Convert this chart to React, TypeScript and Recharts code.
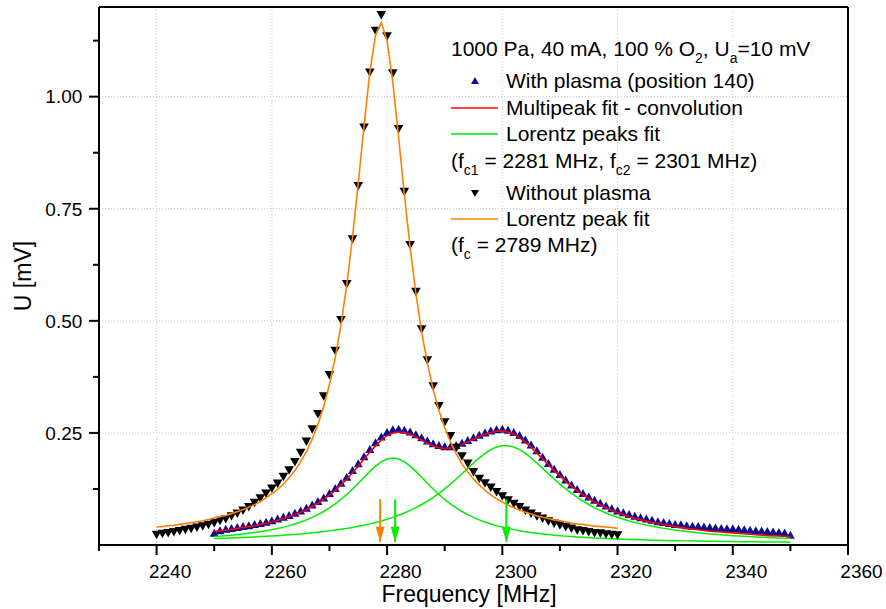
import React from 'react';
import { ComposedChart, Scatter, XAxis, YAxis, ReferenceLine, Label } from 'recharts';

// ---------- data ----------
const range = (a: number, b: number, step: number) => {
  const out: number[] = [];
  for (let v = a; v <= b + 1e-9; v += step) out.push(v);
  return out;
};

const withoutPlasmaFreq = range(2240, 2320, 1);
const withoutPlasmaU = [
  0.023, 0.025, 0.027, 0.029, 0.031, 0.034, 0.036, 0.039, 0.042, 0.045,
  0.049, 0.054, 0.058, 0.064, 0.070, 0.077, 0.085, 0.094, 0.104, 0.115,
  0.126, 0.137, 0.152, 0.167, 0.185, 0.206, 0.231, 0.258, 0.292, 0.332,
  0.379, 0.433, 0.502, 0.582, 0.682, 0.801, 0.931, 1.054, 1.147, 1.182,
  1.135, 1.052, 0.928, 0.788, 0.669, 0.565, 0.481, 0.412, 0.354, 0.310,
  0.274, 0.243, 0.217, 0.198, 0.182, 0.163, 0.148, 0.138, 0.128, 0.118,
  0.109, 0.100, 0.092, 0.085, 0.077, 0.070, 0.064, 0.059, 0.053, 0.048,
  0.044, 0.040, 0.037, 0.033, 0.031, 0.029, 0.027, 0.026, 0.024, 0.023,
  0.022,
];
const lorentzPeakFitU = [
  0.040, 0.041, 0.043, 0.044, 0.046, 0.048, 0.050, 0.052, 0.054, 0.057,
  0.060, 0.063, 0.066, 0.070, 0.074, 0.079, 0.084, 0.090, 0.097, 0.105,
  0.114, 0.124, 0.136, 0.150, 0.166, 0.186, 0.208, 0.236, 0.269, 0.309,
  0.358, 0.418, 0.491, 0.580, 0.686, 0.807, 0.935, 1.054, 1.138, 1.165,
  1.125, 1.032, 0.909, 0.782, 0.664, 0.561, 0.475, 0.405, 0.347, 0.300,
  0.262, 0.230, 0.203, 0.181, 0.163, 0.147, 0.134, 0.122, 0.112, 0.103,
  0.096, 0.089, 0.083, 0.078, 0.073, 0.069, 0.065, 0.062, 0.059, 0.056,
  0.054, 0.051, 0.049, 0.047, 0.046, 0.044, 0.042, 0.041, 0.040, 0.039,
  0.037,
];

const withPlasmaFreq = range(2250, 2350, 1);
const withPlasmaU = [
  0.026, 0.032, 0.035, 0.037, 0.039, 0.041, 0.043, 0.046, 0.048, 0.051,
  0.054, 0.058, 0.062, 0.066, 0.071, 0.076, 0.082, 0.089, 0.097, 0.105,
  0.115, 0.126, 0.138, 0.151, 0.166, 0.181, 0.197, 0.213, 0.228, 0.241,
  0.251, 0.257, 0.258, 0.256, 0.252, 0.246, 0.239, 0.232, 0.226, 0.222,
  0.219, 0.219, 0.222, 0.227, 0.233, 0.239, 0.245, 0.250, 0.254, 0.257,
  0.258, 0.256, 0.251, 0.244, 0.234, 0.223, 0.210, 0.196, 0.182, 0.169,
  0.157, 0.145, 0.134, 0.124, 0.115, 0.107, 0.100, 0.093, 0.087, 0.081,
  0.076, 0.072, 0.068, 0.064, 0.061, 0.058, 0.055, 0.052, 0.050, 0.048,
  0.046, 0.045, 0.043, 0.042, 0.041, 0.040, 0.039, 0.038, 0.037, 0.036,
  0.036, 0.035, 0.034, 0.033, 0.032, 0.031, 0.030, 0.029, 0.028, 0.027,
  0.022,
];

const fitFreq = [...range(2250, 2320, 1), ...range(2322, 2350, 2)];
const multipeakFitU = [
  0.030, 0.032, 0.033, 0.035, 0.037, 0.039, 0.041, 0.043, 0.046, 0.048,
  0.052, 0.055, 0.059, 0.063, 0.068, 0.073, 0.079, 0.086, 0.093, 0.102,
  0.111, 0.122, 0.134, 0.147, 0.161, 0.176, 0.192, 0.207, 0.221, 0.234,
  0.244, 0.250, 0.252, 0.251, 0.247, 0.241, 0.234, 0.227, 0.221, 0.217,
  0.215, 0.216, 0.219, 0.224, 0.230, 0.236, 0.242, 0.247, 0.251, 0.254,
  0.254, 0.252, 0.247, 0.239, 0.229, 0.218, 0.205, 0.192, 0.179, 0.166,
  0.154, 0.142, 0.131, 0.121, 0.112, 0.104, 0.096, 0.089, 0.083, 0.077,
  0.072,
  0.063, 0.056, 0.050, 0.045, 0.041, 0.037, 0.034, 0.031, 0.029, 0.027,
  0.025, 0.023, 0.021, 0.020, 0.019,
];
const lorentzPeak1U = [
  0.0188, 0.0198, 0.0208, 0.0220, 0.0233, 0.0247, 0.0262, 0.0279, 0.0298, 0.0320,
  0.0343, 0.0370, 0.0399, 0.0432, 0.0470, 0.0512, 0.0560, 0.0615, 0.0677, 0.0747,
  0.0826, 0.0916, 0.1016, 0.1128, 0.1249, 0.1379, 0.1512, 0.1642, 0.1760, 0.1856,
  0.1918, 0.1940, 0.1918, 0.1856, 0.1760, 0.1642, 0.1512, 0.1379, 0.1249, 0.1128,
  0.1016, 0.0916, 0.0826, 0.0747, 0.0677, 0.0615, 0.0560, 0.0512, 0.0470, 0.0432,
  0.0399, 0.0370, 0.0343, 0.0320, 0.0298, 0.0279, 0.0262, 0.0247, 0.0233, 0.0220,
  0.0208, 0.0198, 0.0188, 0.0179, 0.0171, 0.0163, 0.0156, 0.0150, 0.0144, 0.0138,
  0.0133,
  0.0124, 0.0115, 0.0108, 0.0102, 0.0096, 0.0092, 0.0087, 0.0083, 0.0080, 0.0076,
  0.0073, 0.0071, 0.0068, 0.0066, 0.0064,
];
const lorentzPeak2U = [
  0.0143, 0.0148, 0.0152, 0.0157, 0.0163, 0.0168, 0.0174, 0.0180, 0.0187, 0.0194,
  0.0201, 0.0209, 0.0218, 0.0227, 0.0237, 0.0248, 0.0259, 0.0272, 0.0285, 0.0300,
  0.0315, 0.0332, 0.0351, 0.0371, 0.0392, 0.0416, 0.0442, 0.0471, 0.0502, 0.0537,
  0.0575, 0.0617, 0.0663, 0.0715, 0.0771, 0.0834, 0.0903, 0.0979, 0.1062, 0.1153,
  0.1252, 0.1359, 0.1472, 0.1590, 0.1710, 0.1829, 0.1942, 0.2043, 0.2126, 0.2185,
  0.2216, 0.2216, 0.2185, 0.2126, 0.2043, 0.1942, 0.1829, 0.1710, 0.1590, 0.1472,
  0.1359, 0.1252, 0.1153, 0.1062, 0.0979, 0.0903, 0.0834, 0.0771, 0.0715, 0.0663,
  0.0617,
  0.0537, 0.0471, 0.0416, 0.0371, 0.0332, 0.0300, 0.0272, 0.0248, 0.0227, 0.0209,
  0.0194, 0.0180, 0.0168, 0.0157, 0.0148,
];

// peak-centre arrows (frequency) and their vertical extent (mV)
const arrowOrangeFreq = 2278.8;
const arrowGreen1Freq = 2281.4;
const arrowGreen2Freq = 2300.7;
const arrowTopU = 0.102;
const arrowTipU = 0.007;

const xTicks = range(2230, 2360, 10);
const yTicks = [0.125, 0.25, 0.375, 0.5, 0.625, 0.75, 0.875, 1.0, 1.125];
const xGrid = [2240, 2260, 2280, 2300, 2320, 2340];
const yGrid = [0.25, 0.5, 0.75, 1.0];

const toPts = (xs: number[], ys: number[]) => xs.map((x, i) => ({ x, y: ys[i] }));
const withoutPlasmaPts = toPts(withoutPlasmaFreq, withoutPlasmaU);
const lorentzPeakFitPts = toPts(withoutPlasmaFreq, lorentzPeakFitU);
const withPlasmaPts = toPts(withPlasmaFreq, withPlasmaU);
const multipeakPts = toPts(fitFreq, multipeakFitU);
const peak1Pts = toPts(fitFreq, lorentzPeak1U);
const peak2Pts = toPts(fitFreq, lorentzPeak2U);
const arrowShaft = (f: number) => [{ x: f, y: arrowTopU }, { x: f, y: arrowTipU }];
const arrowTip = (f: number) => [{ x: f, y: arrowTipU }];

// ---------- styling ----------
const FONT = '"Liberation Sans", Arial, Helvetica, sans-serif';
const BLUE = '#0c0c92';
const RED = '#ff0000';
const GREEN = '#00ee00';
const ORANGE = '#ff8000';

const XTick = (props: any) => {
  const { x, y, payload } = props;
  const v = payload.value;
  const major = (v - 2240) % 20 === 0;
  return (
    <g>
      <line x1={x} x2={x} y1={y} y2={y + (major ? 10 : 6)} stroke="#000" strokeWidth={2} />
      {major && (
        <text x={x + 13.5} y={y + 33.3} textAnchor="middle" fontSize={19} fill="#000" fontFamily={FONT}>
          {v}
        </text>
      )}
    </g>
  );
};

const YTick = (props: any) => {
  const { x, y, payload } = props;
  const v = payload.value;
  const major = Math.abs(v * 4 - Math.round(v * 4)) < 1e-6;
  return (
    <g>
      <line x1={x} x2={x - (major ? 10 : 6)} y1={y} y2={y} stroke="#000" strokeWidth={2} />
      {major && (
        <text x={x - 16.7} y={y + 6.8} textAnchor="end" fontSize={19} fill="#000" fontFamily={FONT}>
          {v.toFixed(2)}
        </text>
      )}
    </g>
  );
};

const noShape = () => <g />;
const upTri = (color: string) => (p: any) => {
  const { cx, cy } = p;
  if (cx == null || cy == null) return <g />;
  return <path d={`M${cx},${cy - 4.5}L${cx + 4.5},${cy + 3.5}L${cx - 4.5},${cy + 3.5}Z`} fill={color} />;
};
const downTri = (color: string) => (p: any) => {
  const { cx, cy } = p;
  if (cx == null || cy == null) return <g />;
  return <path d={`M${cx},${cy + 4.5}L${cx + 4.8},${cy - 4}L${cx - 4.8},${cy - 4}Z`} fill={color} />;
};
const arrowHead = (color: string) => (p: any) => {
  const { cx, cy } = p;
  if (cx == null || cy == null) return <g />;
  return <path d={`M${cx},${cy}L${cx + 4.5},${cy - 15}L${cx - 4.5},${cy - 15}Z`} fill={color} />;
};

const YTitle = (p: any) => {
  const vb = p.viewBox || { x: 8, y: 7, width: 91, height: 538 };
  const cx = vb.x + 15;
  const cy = vb.y + vb.height / 2;
  return (
    <text x={cx} y={cy} transform={`rotate(-90, ${cx}, ${cy})`} textAnchor="middle" dominantBaseline="central"
      fontSize={23} fill="#000" fontFamily={FONT}>
      U [mV]
    </text>
  );
};
const XTitle = (p: any) => {
  const vb = p.viewBox || { x: 99, y: 545, width: 749, height: 64 };
  return (
    <text x={vb.x + vb.width / 2 - 4.5} y={vb.y + 57} textAnchor="middle" fontSize={23} fill="#000" fontFamily={FONT}>
      Frequency [MHz]
    </text>
  );
};

const Sub = ({ children }: { children: React.ReactNode }) => (
  <span style={{ fontSize: 14, position: 'relative', top: 7 }}>{children}</span>
);

const rowStyle = (capCenter: number, left: number): React.CSSProperties => ({
  position: 'absolute',
  left,
  top: capCenter - 11.75,
  fontSize: 21,
  lineHeight: '24px',
  whiteSpace: 'nowrap',
  color: '#000',
});

const LegendLine = ({ capCenter, color }: { capCenter: number; color: string }) => (
  <svg style={{ position: 'absolute', left: 451, top: capCenter - 5 }} width={48} height={10}>
    <line x1={0} x2={47} y1={5} y2={5} stroke={color} strokeWidth={1.5} />
  </svg>
);
const LegendTri = ({ capCenter, color, up }: { capCenter: number; color: string; up: boolean }) => (
  <svg style={{ position: 'absolute', left: 470, top: capCenter - 5 }} width={10} height={10}>
    {up ? <path d="M5,1L9,8L1,8Z" fill={color} /> : <path d="M5,9L9,2L1,2Z" fill={color} />}
  </svg>
);

const LegendBox = () => (
  <div style={{ position: 'absolute', left: 0, top: 0, width: 886, height: 609, pointerEvents: 'none' }}>
    <div style={rowStyle(48.8, 451)}>
      1000 Pa, 40 mA, 100 % O<Sub>2</Sub>, U<Sub>a</Sub>=10 mV
    </div>
    <LegendTri capCenter={80.8} color={BLUE} up={true} />
    <div style={rowStyle(80.8, 506)}>With plasma (position 140)</div>
    <LegendLine capCenter={107.5} color={RED} />
    <div style={rowStyle(107.5, 506)}>Multipeak fit - convolution</div>
    <LegendLine capCenter={133.5} color={GREEN} />
    <div style={rowStyle(133.5, 506)}>Lorentz peaks fit</div>
    <div style={rowStyle(160.8, 451)}>
      (f<Sub>c1</Sub> = 2281 MHz, f<Sub>c2</Sub> = 2301 MHz)
    </div>
    <LegendTri capCenter={192.5} color="#000" up={false} />
    <div style={rowStyle(192.5, 506)}>Without plasma</div>
    <LegendLine capCenter={219.2} color={ORANGE} />
    <div style={rowStyle(219.2, 506)}>Lorentz peak fit</div>
    <div style={rowStyle(245, 451)}>
      (f<Sub>c</Sub> = 2789 MHz)
    </div>
  </div>
);

const fitLine = (data: any[], color: string, width: number, key: string) => (
  <Scatter
    key={key}
    data={data}
    shape={noShape}
    line={{ stroke: color, strokeWidth: width, fill: 'none' }}
    lineType="joint"
    isAnimationActive={false}
  />
);

export default function App() {
  return (
    <div style={{ position: 'absolute', left: 0, top: 0, width: 886, height: 609, background: '#fff', fontFamily: FONT }}>
      <ComposedChart width={886} height={609} margin={{ top: 7, right: 38, bottom: 0, left: 8 }}>
        <XAxis
          type="number"
          dataKey="x"
          domain={[2230, 2360]}
          allowDataOverflow
          ticks={xTicks}
          interval={0}
          tick={<XTick />}
          tickLine={false}
          tickSize={0}
          tickMargin={0}
          height={64}
          axisLine={{ stroke: '#000', strokeWidth: 2 }}
        >
          <Label content={<XTitle />} />
        </XAxis>
        <YAxis
          type="number"
          dataKey="y"
          domain={[0, 1.2]}
          allowDataOverflow
          ticks={yTicks}
          interval={0}
          tick={<YTick />}
          tickLine={false}
          tickSize={0}
          tickMargin={0}
          width={91}
          axisLine={{ stroke: '#000', strokeWidth: 2 }}
        >
          <Label content={<YTitle />} />
        </YAxis>

        {xGrid.map((g) => (
          <ReferenceLine key={`gx${g}`} x={g} stroke="#c8c8c8" strokeWidth={1} strokeDasharray="1 2" />
        ))}
        {yGrid.map((g) => (
          <ReferenceLine key={`gy${g}`} y={g} stroke="#c8c8c8" strokeWidth={1} strokeDasharray="1 2" />
        ))}
        <ReferenceLine y={1.2} stroke="#000" strokeWidth={2} />
        <ReferenceLine x={2360} stroke="#000" strokeWidth={2} />

        <Scatter data={withPlasmaPts} shape={upTri(BLUE)} isAnimationActive={false} />
        {fitLine(multipeakPts, RED, 1.6, 'red')}
        {fitLine(peak1Pts, GREEN, 1.5, 'g1')}
        {fitLine(peak2Pts, GREEN, 1.5, 'g2')}
        <Scatter data={withoutPlasmaPts} shape={downTri('#000')} isAnimationActive={false} />
        {fitLine(lorentzPeakFitPts, ORANGE, 1.6, 'orange')}

        {fitLine(arrowShaft(arrowOrangeFreq), ORANGE, 2, 'ao')}
        {fitLine(arrowShaft(arrowGreen1Freq), GREEN, 2, 'ag1')}
        {fitLine(arrowShaft(arrowGreen2Freq), GREEN, 2, 'ag2')}
        <Scatter data={arrowTip(arrowOrangeFreq)} shape={arrowHead(ORANGE)} isAnimationActive={false} />
        <Scatter data={arrowTip(arrowGreen1Freq)} shape={arrowHead(GREEN)} isAnimationActive={false} />
        <Scatter data={arrowTip(arrowGreen2Freq)} shape={arrowHead(GREEN)} isAnimationActive={false} />
      </ComposedChart>
      <LegendBox />
    </div>
  );
}
